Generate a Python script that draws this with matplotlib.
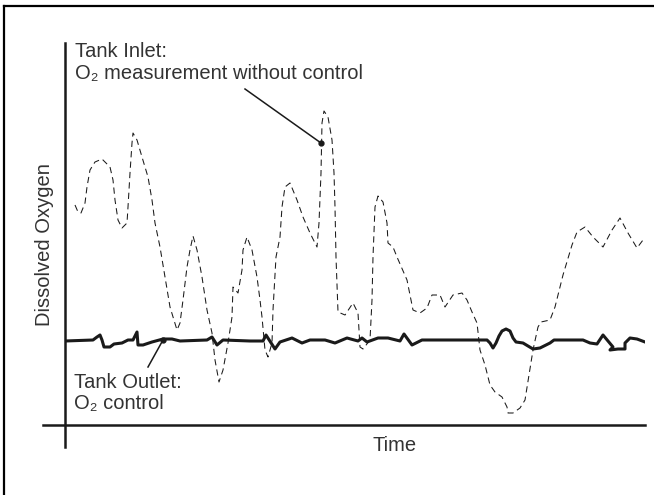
import matplotlib.pyplot as plt
from matplotlib.lines import Line2D

# Tank inlet: O2 measurement without control (dashed)
inlet_time = [10, 13, 16, 20, 22, 25, 30, 37, 45, 48, 50, 53, 57, 62, 63, 65, 67, 68, 72, 77,
              83, 87, 90, 95, 100, 105, 112, 115, 118, 122, 125, 128, 132, 137, 142, 147, 150,
              154, 158, 163, 167, 168, 173, 177, 178, 182, 187, 192, 195, 197, 200, 203, 207,
              208, 211, 215, 217, 220, 225, 232, 238, 245, 252, 254, 256, 257, 259, 263, 267,
              269, 270, 271, 273, 280, 288, 293, 295, 298, 305, 307, 308, 310, 313, 318, 322,
              323, 328, 332, 342, 348, 355, 362, 367, 375, 380, 388, 397, 402, 407, 412, 415,
              420, 425, 430, 437, 442, 443, 448, 455, 460, 468, 473, 476, 485, 490, 498, 507,
              512, 520, 528, 538, 547, 555, 563, 572, 578]
inlet_do = [220, 213, 212, 222, 238, 255, 263, 266, 258, 245, 225, 205, 197, 202, 218, 252, 282,
            292, 285, 268, 248, 225, 202, 178, 148, 118, 95, 102, 125, 158, 175, 189, 175, 148,
            115, 92, 65, 43, 55, 82, 108, 138, 132, 155, 175, 188, 175, 148, 125, 108, 75, 68,
            82, 115, 168, 188, 218, 238, 242, 225, 208, 192, 178, 202, 252, 302, 314, 308, 285,
            252, 218, 168, 113, 110, 122, 112, 78, 76, 85, 125, 168, 218, 229, 223, 202, 182,
            178, 168, 145, 115, 112, 117, 130, 130, 118, 130, 132, 125, 113, 102, 75, 60, 40,
            33, 28, 18, 12, 12, 17, 25, 75, 98, 103, 105, 118, 150, 180, 193, 198, 188, 178,
            195, 207, 192, 177, 185]

# Tank outlet: O2 control (solid)
outlet_time = [0, 28, 32, 35, 37, 39, 45, 49, 57, 63, 68, 72, 73, 78, 87, 98, 107, 115, 142, 147,
               152, 158, 185, 198, 201, 210, 215, 227, 237, 245, 260, 270, 282, 293, 297, 302,
               313, 323, 335, 339, 347, 357, 422, 425, 428, 431, 434, 437, 441, 445, 448, 451,
               458, 463, 468, 475, 485, 489, 518, 525, 532, 538, 543, 548, 545, 553, 560, 560,
               565, 572, 580]
outlet_do = [84, 85, 88, 90, 85, 78, 78, 81, 82, 85, 85, 93, 80, 80, 83, 86, 86, 84, 85, 88,
             80, 85, 84, 84, 90, 76, 83, 87, 82, 85, 85, 82, 87, 84, 87, 83, 87, 87, 84, 91,
             80, 85, 85, 82, 77, 82, 89, 94, 96, 94, 87, 83, 82, 79, 76, 77, 82, 85, 85, 82,
             81, 90, 84, 78, 75, 76, 76, 82, 87, 86, 83]

txt = '#333333'
ink = '#1a1a1a'
fnt = ['Liberation Sans', 'DejaVu Sans']

fig = plt.figure(figsize=(6.54, 4.95), dpi=100)
ax = fig.add_axes([65 / 654, 70 / 495, 580 / 654, 382 / 495])
ax.set_xlim(0, 580)
ax.set_ylim(0, 382)
ax.axis('off')

ax.plot(inlet_time, inlet_do, color=ink, lw=0.75, dashes=(6, 4))
ax.plot(outlet_time, outlet_do, color=ink, lw=2.2, solid_joinstyle='round')

# axis lines (crossing)
ax.plot([0, 0], [-22, 382], color=ink, lw=1.8, clip_on=False)
ax.plot([-22, 580], [0, 0], color=ink, lw=1.8, clip_on=False)

# callouts
ax.plot([180, 256], [336, 282], color=ink, lw=1.1)
ax.plot([256], [282], 'o', color=ink, ms=3.5)
ax.plot([83, 98], [58, 85], color=ink, lw=1.1)
ax.plot([98], [85], 'o', color=ink, ms=3.5)

ax.text(10, 368, 'Tank Inlet:', fontsize=14.5, color=txt, family=fnt, va='baseline')
ax.text(10, 346, 'O\u2082 measurement without control', fontsize=14.5, color=txt,
        family=fnt, va='baseline')
ax.text(9, 37, 'Tank Outlet:', fontsize=14.5, color=txt, family=fnt, va='baseline')
ax.text(9, 16, 'O\u2082 control', fontsize=14.5, color=txt, family=fnt, va='baseline')
ax.text(330, -26, 'Time', fontsize=14.5, color=txt, family=fnt, ha='center', va='baseline')
ax.text(-15, 180, 'Dissolved Oxygen', fontsize=14.5, color=txt, family=fnt, rotation=90,
        rotation_mode='anchor', ha='center', va='baseline')

# frame (left and top edges only)
fig.add_artist(Line2D([4 / 654, 4 / 654], [0, 1 - 6 / 495], transform=fig.transFigure,
                      color='black', lw=1.6))
fig.add_artist(Line2D([4 / 654, 1], [1 - 6 / 495, 1 - 6 / 495], transform=fig.transFigure,
                      color='black', lw=1.6))

fig.savefig('out.png', dpi=100)
